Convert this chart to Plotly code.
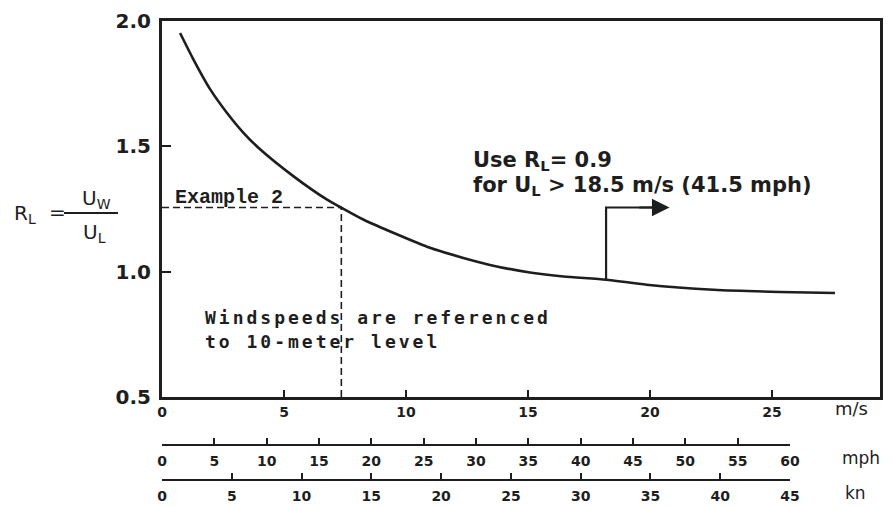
import plotly.graph_objects as go

# ---- data ----
wind_ms = [0.74, 1.28, 1.97, 2.65, 3.33, 4.02, 5.38, 6.75, 7.3, 8.25, 9.55, 10.98,
           12.35, 13.72, 15.08, 16.45, 18.2, 19.86, 22.6, 25.33, 27.58]
ratio_rl = [1.952, 1.848, 1.728, 1.635, 1.555, 1.488, 1.381, 1.288, 1.258, 1.208, 1.152, 1.095,
            1.055, 1.021, 0.997, 0.981, 0.968, 0.948, 0.928, 0.919, 0.915]

example_x = 7.35
example_r = 1.256
arrow_x = 18.2
arrow_r_low = 0.968
arrow_end_x = 20.8

ms_ticks = [0, 5, 10, 15, 20, 25]
y_ticks = [0.5, 1.0, 1.5, 2.0]
y_ticktext = ["0.5", "1.0", "1.5", "2.0"]
mph_ticks = [0, 5, 10, 15, 20, 25, 30, 35, 40, 45, 50, 55, 60]
kn_ticks = [0, 5, 10, 15, 20, 25, 30, 35, 40, 45]

# ---- layout geometry (reference pixels) ----
OFF = 8                      # page body margin
FW, FH = 892 - OFF, 507 - OFF
L, R, T, B = 162, 880, 21, 480
W, H = R - L, B - T
Y_BOTTOM_PX = 397
MPH_PX = 445
SCALE_END_PX = 790

def px(x):
    return (x - L) / W

def py(y):
    return (B - y) / H

INK = "#1e1e1e"
SANS = "DejaVu Sans"

fig = go.Figure()

fig.add_trace(go.Scatter(x=wind_ms, y=ratio_rl, mode="lines",
                         line=dict(color=INK, width=2.6, shape="spline", smoothing=0.6),
                         hoverinfo="skip", showlegend=False))
# dashed example lines
fig.add_trace(go.Scatter(x=[0, example_x], y=[example_r, example_r], mode="lines",
                         line=dict(color=INK, width=1.6, dash="7px,4px"), showlegend=False))
fig.add_trace(go.Scatter(x=[example_x, example_x], y=[0.5, example_r], mode="lines",
                         line=dict(color=INK, width=1.6, dash="7px,4px"), showlegend=False))
# arrow stem
fig.add_trace(go.Scatter(x=[arrow_x, arrow_x, arrow_end_x - 0.3], y=[arrow_r_low, example_r, example_r],
                         mode="lines", line=dict(color=INK, width=2.2), showlegend=False))

fig.add_annotation(x=arrow_end_x, y=example_r, ax=arrow_end_x - 1.3, ay=example_r,
                   xref="x", yref="y", axref="x", ayref="y", text="", showarrow=True,
                   arrowhead=2, arrowsize=1.6, arrowwidth=2.2, arrowcolor=INK)

xmax = (R - L) / 24.4
dom_bottom = py(Y_BOTTOM_PX)
scale_dom = (SCALE_END_PX - L) / W

tick_font = dict(family=SANS, size=14, color=INK, weight="bold")

fig.update_layout(
    width=FW, height=FH,
    margin=dict(l=L - OFF, r=FW - (R - OFF), t=T - OFF, b=FH - (B - OFF), pad=0, autoexpand=False),
    paper_bgcolor="white", plot_bgcolor="rgba(0,0,0,0)",
    showlegend=False,
    xaxis=dict(range=[0, xmax], domain=[0, 1], anchor="y", showgrid=False, zeroline=False,
               automargin=False,
               showline=True, linecolor=INK, linewidth=3, mirror=True,
               ticks="inside", ticklen=7, tickwidth=2, tickcolor=INK,
               tickvals=ms_ticks, ticktext=[str(v) for v in ms_ticks],
               tickfont=tick_font, ticklabelstandoff=0),
    yaxis=dict(range=[0.5, 2.0], domain=[dom_bottom, 1], showgrid=False, zeroline=False,
               automargin=False,
               showline=True, linecolor=INK, linewidth=3, mirror=True,
               ticks="inside", ticklen=9, tickwidth=2, tickcolor=INK,
               tickvals=y_ticks, ticktext=y_ticktext,
               tickfont=dict(family=SANS, size=20, color=INK, weight="bold"), ticklabelstandoff=4),
    xaxis2=dict(range=[0, 60], domain=[0, scale_dom], anchor="free", position=py(MPH_PX),
                automargin=False, showgrid=False, zeroline=False,
                showline=True, linecolor=INK, linewidth=2,
                ticks="inside", ticklen=6, tickwidth=1.5, tickcolor=INK,
                tickvals=mph_ticks, ticktext=[str(v) for v in mph_ticks],
                tickfont=tick_font, ticklabelstandoff=3),
    xaxis3=dict(range=[0, 45], domain=[0, scale_dom], anchor="free", position=0,
                automargin=False, showgrid=False, zeroline=False,
                showline=True, linecolor=INK, linewidth=2,
                ticks="inside", ticklen=6, tickwidth=1.5, tickcolor=INK,
                tickvals=kn_ticks, ticktext=[str(v) for v in kn_ticks],
                tickfont=tick_font, ticklabelstandoff=3),
)
# invisible traces to activate extra axes
fig.add_trace(go.Scatter(x=[0, 60], y=[None, None], xaxis="x2", yaxis="y", mode="lines",
                         showlegend=False, hoverinfo="skip"))
fig.add_trace(go.Scatter(x=[0, 45], y=[None, None], xaxis="x3", yaxis="y", mode="lines",
                         showlegend=False, hoverinfo="skip"))

def note(text, x, y, size, family=SANS, xanchor="left", weight="normal", yanchor="middle"):
    fig.add_annotation(x=px(x), y=py(y), xref="paper", yref="paper", text=text,
                       showarrow=False, xanchor=xanchor, yanchor=yanchor, borderpad=0,
                       font=dict(family=family, size=size, color=INK, weight=weight))

note("m/s", 851, 408, 18, xanchor="center")
note("mph", 861, 458, 17, xanchor="center")
note("kn", 855, 493, 17, xanchor="center")

note("Example 2", 174, 197, 20, family="Liberation Mono", weight="bold")
note('<span style="letter-spacing:3px">Windspeeds are referenced</span>', 204, 317, 18,
     family="DejaVu Sans Mono", weight="bold")
note('<span style="letter-spacing:3px">to 10-meter level</span>', 204, 341, 18,
     family="DejaVu Sans Mono", weight="bold")

note("Use R<sub>L</sub>= 0.9", 472, 161, 21, weight="bold")
note("for U<sub>L</sub> > 18.5 m/s (41.5 mph)", 472, 186, 21, weight="bold")

# y label: R_L = U_W / U_L
note("R<sub>L</sub>", 13, 214, 20)
note("=", 48, 212, 20)
note("U<sub>W</sub>", 96, 199, 20, xanchor="center")
note("U<sub>L</sub>", 94, 233, 20, xanchor="center")
fig.add_shape(type="line", xref="paper", yref="paper", x0=px(64), x1=px(118), y0=py(213), y1=py(213),
              line=dict(color=INK, width=2))

fig.write_html("out.html")
